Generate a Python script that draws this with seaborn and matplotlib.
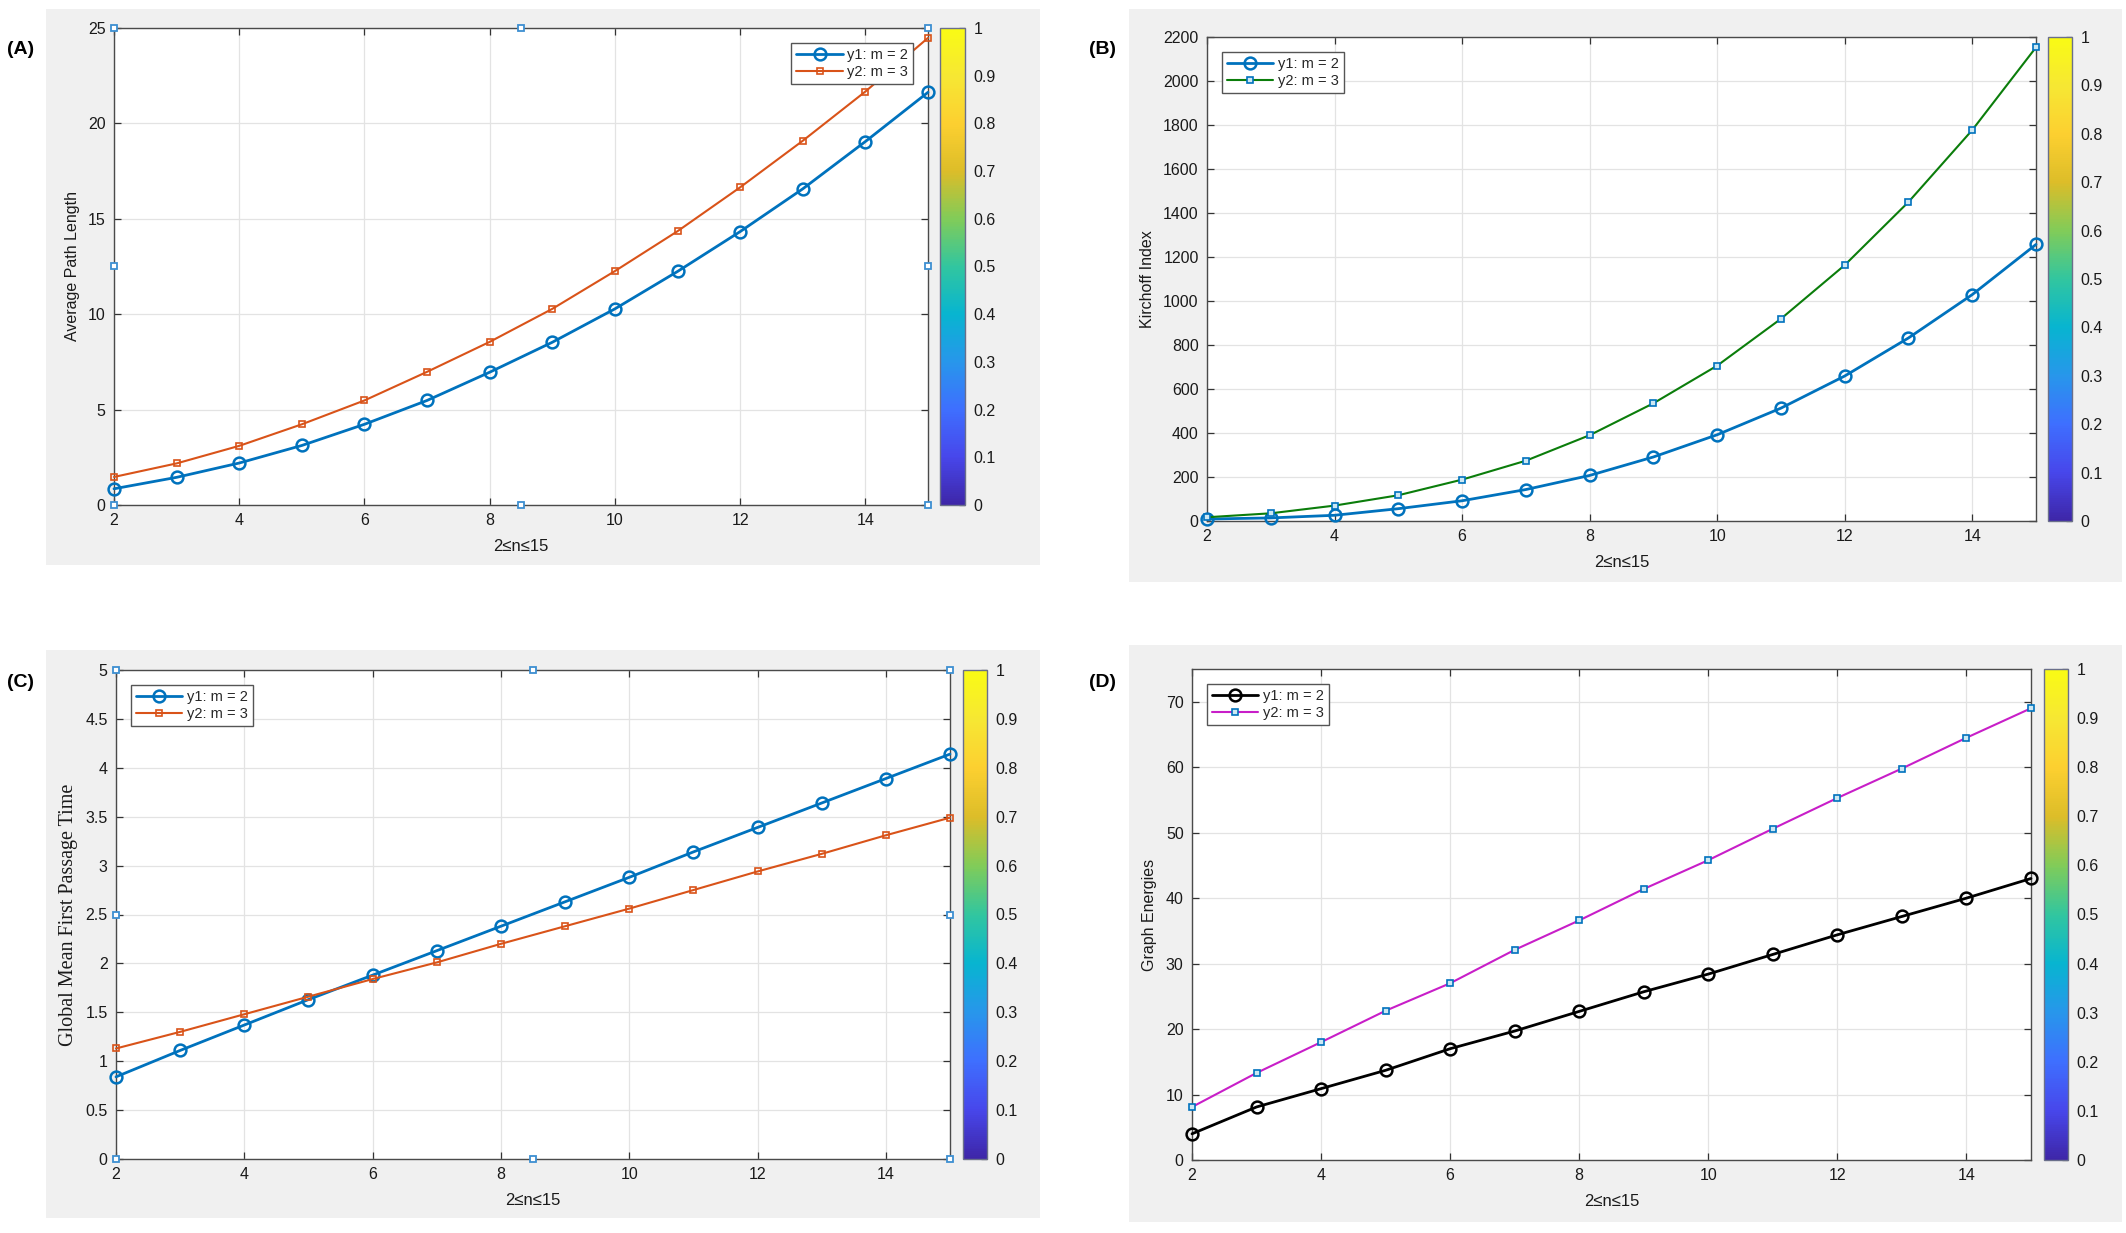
import numpy as np
import matplotlib
matplotlib.use("Agg")
import matplotlib.pyplot as plt
import seaborn as sns
from matplotlib.colors import LinearSegmentedColormap, Normalize
from matplotlib.cm import ScalarMappable
from matplotlib.patches import Rectangle
from matplotlib.ticker import FormatStrFormatter

# values
n = [2, 3, 4, 5, 6, 7, 8, 9, 10, 11, 12, 13, 14, 15]

apl_m2 = [0.85, 1.45, 2.2, 3.12, 4.23, 5.48, 6.96, 8.53, 10.28, 12.24, 14.33, 16.57, 19.05, 21.63]
apl_m3 = [1.47, 2.18, 3.1, 4.23, 5.48, 6.98, 8.55, 10.28, 12.26, 14.35, 16.65, 19.09, 21.67, 24.48]

kirch_m2 = [9, 14, 26, 56, 92, 143, 207, 291, 392, 513, 659, 832, 1029, 1257]
kirch_m3 = [17, 35, 70, 117, 188, 274, 390, 535, 706, 919, 1163, 1450, 1777, 2153]

gmfpt_m2 = [0.84, 1.11, 1.37, 1.63, 1.88, 2.13, 2.38, 2.63, 2.88, 3.14, 3.39, 3.64, 3.89, 4.14]
gmfpt_m3 = [1.13, 1.30, 1.48, 1.66, 1.84, 2.01, 2.20, 2.38, 2.56, 2.75, 2.94, 3.12, 3.31, 3.49]

energy_m2 = [4.0, 8.1, 10.9, 13.7, 17.0, 19.7, 22.7, 25.7, 28.4, 31.4, 34.4, 37.2, 40.0, 43.0]
energy_m3 = [8.1, 13.3, 18.0, 22.8, 27.0, 32.1, 36.6, 41.4, 45.8, 50.6, 55.3, 59.8, 64.5, 69.0]

labels = ["y1: m = 2", "y2: m = 3"]
x_ticks = [2, 4, 6, 8, 10, 12, 14]
cbar_ticks = [0, 0.1, 0.2, 0.3, 0.4, 0.5, 0.6, 0.7, 0.8, 0.9, 1]

sns.set_theme(style="white")
plt.rcParams['font.family'] = ['Liberation Sans', 'DejaVu Sans']

W, H = 2126, 1233

def px_rect(l, t, r, b):
    return [l / W, 1 - b / H, (r - l) / W, (b - t) / H]

# approximate MATLAB parula
parula = LinearSegmentedColormap.from_list("parula", [
    (0.2422, 0.1504, 0.6603), (0.2803, 0.2782, 0.9221), (0.2440, 0.4358, 0.9988),
    (0.1540, 0.5902, 0.9218), (0.0297, 0.7082, 0.8163), (0.1938, 0.7758, 0.6251),
    (0.5044, 0.7993, 0.3480), (0.8634, 0.7406, 0.1596), (0.9892, 0.8136, 0.1885),
    (0.9657, 0.9060, 0.2011), (0.9769, 0.9839, 0.0805)])

blue = "#0072BD"
orange = "#D95319"
green = "#0B7D0B"
magenta = "#C81EC8"
handle_col = "#3D8FD1"

panels = [
    dict(tag="(A)", y1=apl_m2, y2=apl_m3, ylabel="Average Path Length", ylim=(0, 25),
         yticks=[0, 5, 10, 15, 20, 25], c1=blue, c2=orange, sq_edge=orange, sq_face="none",
         legend="upper right", handles=True, serif=False,
         bg=(46, 9, 1040, 565), ax=(114, 28, 928, 505), cb=(940, 965), tagpos=(7, 50)),
    dict(tag="(B)", y1=kirch_m2, y2=kirch_m3, ylabel="Kirchoff Index", ylim=(0, 2200),
         yticks=list(range(0, 2201, 200)), c1=blue, c2=green, sq_edge=blue, sq_face="#cde8f3",
         legend="upper left", handles=False, serif=False,
         bg=(1129, 9, 2122, 582), ax=(1207, 37, 2036, 521), cb=(2048, 2072), tagpos=(1089, 50)),
    dict(tag="(C)", y1=gmfpt_m2, y2=gmfpt_m3, ylabel="Global Mean First Passage Time", ylim=(0, 5),
         yticks=[0, 0.5, 1, 1.5, 2, 2.5, 3, 3.5, 4, 4.5, 5], c1=blue, c2=orange, sq_edge=orange,
         sq_face="none", legend="upper left", handles=True, serif=True,
         bg=(46, 650, 1040, 1218), ax=(116, 670, 950, 1159), cb=(963, 987), tagpos=(7, 683)),
    dict(tag="(D)", y1=energy_m2, y2=energy_m3, ylabel="Graph Energies", ylim=(0, 75),
         yticks=[0, 10, 20, 30, 40, 50, 60, 70], c1="black", c2=magenta, sq_edge=blue,
         sq_face="#cde8f3", legend="upper left", handles=False, serif=False,
         bg=(1129, 645, 2122, 1222), ax=(1192, 669, 2031, 1160), cb=(2044, 2068), tagpos=(1089, 683)),
]

fig = plt.figure(figsize=(W / 100, H / 100), dpi=100)

for p in panels:
    l, t, r, b = p["bg"]
    fig.add_artist(Rectangle((l / W, 1 - b / H), (r - l) / W, (b - t) / H,
                             transform=fig.transFigure, facecolor="#f0f0f0",
                             edgecolor="none", zorder=-10))

    al, at, ar, ab = p["ax"]
    ax = fig.add_axes(px_rect(al, at, ar, ab))
    ax.set_facecolor("white")

    sns.lineplot(x=n, y=p["y1"], ax=ax, color=p["c1"], linewidth=2.0, marker="o",
                 markersize=8.5, markeredgewidth=1.8, markerfacecolor="none",
                 markeredgecolor=p["c1"], label=labels[0], clip_on=False, zorder=3)
    sns.lineplot(x=n, y=p["y2"], ax=ax, color=p["c2"], linewidth=1.5, marker="s",
                 markersize=5, markeredgewidth=1.2, markerfacecolor=p["sq_face"],
                 markeredgecolor=p["sq_edge"], label=labels[1], clip_on=False, zorder=4)

    ax.set_xlim(2, 15)
    ax.set_ylim(*p["ylim"])
    ax.set_xticks(x_ticks)
    ax.set_yticks(p["yticks"])
    ax.yaxis.set_major_formatter(FormatStrFormatter("%g"))
    ax.grid(True, color="#e3e3e3", linewidth=0.9)
    ax.tick_params(direction="in", length=5, width=0.9, colors="#333333",
                   labelsize=11.5, labelcolor="#1a1a1a", top=True, right=True,
                   bottom=True, left=True, pad=6)
    for s in ax.spines.values():
        s.set_color("#4a4a4a")
        s.set_linewidth(1.0)

    ax.set_xlabel("2≤n≤15", fontsize=12, color="#1a1a1a", labelpad=8)
    if p["serif"]:
        ax.set_ylabel(p["ylabel"], fontsize=14.5, family=["Liberation Serif", "DejaVu Serif"],
                      color="#1a1a1a", labelpad=5)
    else:
        ax.set_ylabel(p["ylabel"], fontsize=11.5, color="#1a1a1a", labelpad=6)

    leg = ax.legend(loc=p["legend"], fontsize=10.5, frameon=True, fancybox=False,
                    borderaxespad=1.0, handlelength=3.2, handletextpad=0.3,
                    borderpad=0.35, labelspacing=0.25)
    leg.get_frame().set_edgecolor("#555555")
    leg.get_frame().set_linewidth(1.0)
    leg.get_frame().set_facecolor("white")
    leg.get_frame().set_alpha(1)

    # MATLAB selection handles on the selected axes
    if p["handles"]:
        x0, x1 = ax.get_xlim()
        y0, y1 = ax.get_ylim()
        hx = [x0, x0, x0, (x0 + x1) / 2, (x0 + x1) / 2, x1, x1, x1]
        hy = [y0, (y0 + y1) / 2, y1, y1, y0, y1, (y0 + y1) / 2, y0]
        ax.plot(hx, hy, linestyle="none", marker="s", markersize=5, markerfacecolor="white",
                markeredgecolor=handle_col, markeredgewidth=1.3, clip_on=False, zorder=6)

    cl, cr = p["cb"]
    cax = fig.add_axes(px_rect(cl, at, cr, ab))
    cb = fig.colorbar(ScalarMappable(norm=Normalize(0, 1), cmap=parula), cax=cax,
                      ticks=cbar_ticks)
    cb.ax.yaxis.set_major_formatter(FormatStrFormatter("%g"))
    cb.ax.tick_params(direction="in", length=4, width=0.9, labelsize=11.5,
                      colors="#333333", labelcolor="#1a1a1a", pad=6)
    cb.outline.set_edgecolor("#6a6f8a")
    cb.outline.set_linewidth(1.0)

    tx, ty = p["tagpos"]
    fig.text(tx / W, 1 - ty / H, p["tag"], fontsize=14, fontweight="bold",
             ha="left", va="center", color="black")

fig.savefig("out.png", dpi=100)
